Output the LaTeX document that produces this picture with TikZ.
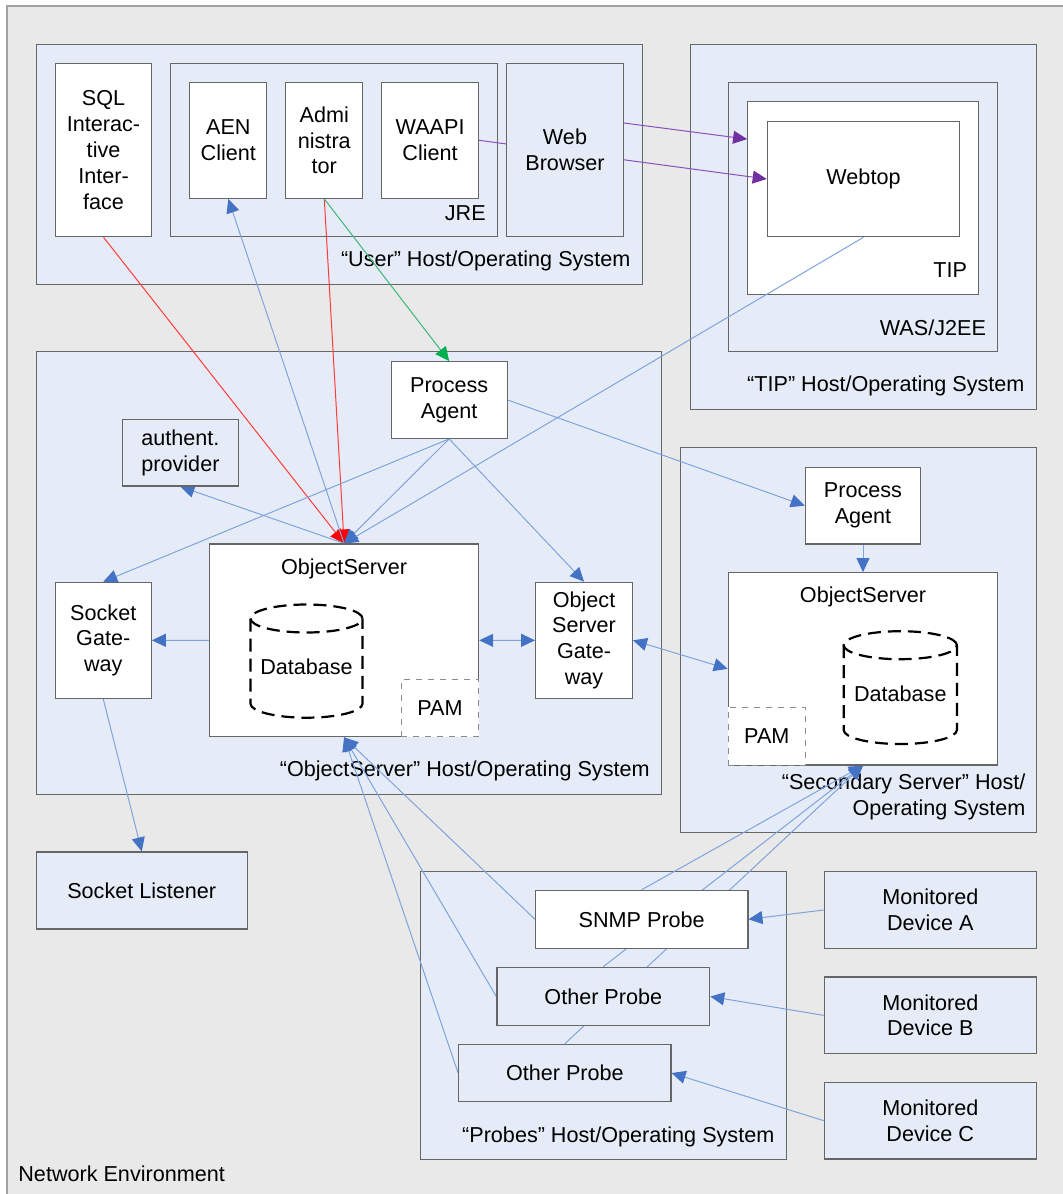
\documentclass[tikz,border=0pt]{standalone}
\usepackage{fontspec}
\setmainfont{Liberation Sans}
\usepackage{tikz}
\usetikzlibrary{arrows.meta,calc}
\pgfdeclarelayer{bg}
\pgfdeclarelayer{fg}
\pgfsetlayers{bg,main,fg}
\definecolor{envgray}{HTML}{E9E9E9}
\definecolor{envline}{HTML}{A0A0A0}
\definecolor{hostblue}{HTML}{E6ECF7}
\definecolor{boxline}{HTML}{666666}
\definecolor{pamline}{HTML}{8C8C8C}
\definecolor{linkblue}{HTML}{7FA3DC}
\definecolor{tipblue}{HTML}{4472C4}
\definecolor{linkred}{HTML}{FF3B3B}
\definecolor{tipred}{HTML}{FF0000}
\definecolor{linkgreen}{HTML}{3CB878}
\definecolor{tipgreen}{HTML}{00B050}
\definecolor{linkpurple}{HTML}{8A4FC0}
\definecolor{tippurple}{HTML}{7030A0}

\begin{document}
\begin{tikzpicture}[x=0.5pt,y=-0.5pt,
  font=\fontsize{10.8}{12.9}\selectfont,
  span/.style args={#1/#2/#3/#4}{at={({(#1+#3)/2},{(#2+#4)/2})},
    minimum width={(#3-#1)*0.5pt}, minimum height={(#4-#2)*0.5pt}},
  host/.style={draw=boxline, fill=hostblue, line width=0.6pt, inner sep=0pt},
  wbox/.style={draw=boxline, fill=white, line width=0.6pt, inner sep=0pt, align=center},
  bbox/.style={wbox, fill=hostblue},
  pambox/.style={draw=pamline, dashed, fill=white, line width=0.5pt, inner sep=0pt},
  hostlbl/.style={anchor=east, align=right, inner sep=0pt},
  dbline/.style={line width=1.1pt, dash pattern=on 6.5pt off 3.5pt},
  link/.style={draw=linkblue, line width=0.5pt,
    -{Triangle[length=7pt,width=6.5pt,color=tipblue]}},
  dlink/.style={draw=linkblue, line width=0.5pt,
    {Triangle[length=7pt,width=6.5pt,color=tipblue]}-{Triangle[length=7pt,width=6.5pt,color=tipblue]}},
  redlink/.style={draw=linkred, line width=0.5pt,
    -{Triangle[length=7pt,width=6.5pt,color=tipred]}},
  greenlink/.style={draw=linkgreen, line width=0.5pt,
    -{Triangle[length=7pt,width=6.5pt,color=tipgreen]}},
  purplelink/.style={draw=linkpurple, line width=0.5pt,
    -{Triangle[length=7pt,width=6.5pt,color=tippurple]}}]
  \useasboundingbox (0,0) rectangle (1063,1194);
  \begin{pgfonlayer}{bg}
  \draw[draw=envline, fill=envgray, line width=0.8pt] (7,6) rectangle (1080,1210);
  \node[anchor=west, inner sep=0pt] (envlbl) at (18,1174) {Network Environment};
  \node[host, span=36.1/44.3/642.7/284.3] (user) {};
  \node[host, span=170.5/63.3/497.5/236.7] (jre) {};
  \node[hostlbl] (jrelbl) at ([xshift=-6pt,yshift=12.3pt]jre.south east) {JRE};
  \node[hostlbl] (userlbl) at ([xshift=-6.3pt,yshift=12pt]user.south east) {“User” Host/Operating System};
  \node[host, span=690.3/44.3/1036.3/409.3] (tiphost) {};
  \node[host, span=728.3/82.3/997.7/351.7] (was) {};
  \node[host, fill=white, span=747.7/101.7/978.7/294.3] (tip) {};
  \node[hostlbl] (tiplbl) at ([xshift=-6pt,yshift=12.5pt]tip.south east) {TIP};
  \node[hostlbl] (waslbl) at ([xshift=-6pt,yshift=12.5pt]was.south east) {WAS/J2EE};
  \node[hostlbl] (tiphostlbl) at ([xshift=-6pt,yshift=12pt]tiphost.south east) {“TIP” Host/Operating System};
  \node[host, span=36.1/351.7/661.4/794.3] (oshost) {};
  \node[hostlbl] (oshostlbl) at ([xshift=-6pt,yshift=12pt]oshost.south east) {“ObjectServer” Host/Operating System};
  \node[host, span=680.7/447.7/1036.3/832.7] (sechost) {};
  \node[hostlbl] (sechostlbl) at ([xshift=-5.5pt,yshift=18.3pt]sechost.south east) {“Secondary Server” Host/\\Operating System};
  \node[host, span=420.5/871.3/786.1/1159.3] (probehost) {};
  \node[hostlbl] (probehostlbl) at ([xshift=-6pt,yshift=11.5pt]probehost.south east) {“Probes” Host/Operating System};
  \end{pgfonlayer}

  \begin{pgfonlayer}{fg}
  \node[wbox, span=55.6/63.3/151.5/236.7] (sql) {SQL\\Interac-\\tive\\Inter-\\face};
  \node[wbox, span=189.8/82.3/266.8/198.3] (aen) {AEN\\Client};
  \node[wbox, span=285.8/82.3/362.8/198.3] (adm) {Admi\\nistra\\tor};
  \node[wbox, span=381.7/82.3/478.5/198.3] (waapi) {WAAPI\\Client};
  \node[bbox, span=506.7/63.3/623.3/236.7] (wb) {Web\\Browser};
  \node[wbox, span=767.3/121.3/959.7/236.7] (webtop) {Webtop};
  \node[wbox, span=391.2/361.7/507.1/438.3] (pa) {Process\\Agent};
  \node[bbox, span=122.7/419.3/238.2/486] (auth) {authent.\\provider};
  \node[wbox, span=55.3/582.3/151.2/698.3] (sgw) {Socket\\Gate-\\way};
  \node[wbox, span=535.7/582.3/632.4/698.3] (osgw) {Object\\Server\\Gate-\\way};
  \node[wbox, span=209.6/544/478.6/736.7] (os) {};
  \node (oslbl) at ([yshift=-12.8pt]os.north) {ObjectServer};
  \node[pambox, span=401.4/679/478.6/736.7] (pam) {PAM};
  \draw[dbline] (306.5,618.5) ellipse [x radius=28pt, y radius=7pt];
  \draw[dbline] (250.5,618.5) -- (250.5,703.7) arc[start angle=180, end angle=360, x radius=28pt, y radius=7pt] -- (362.5,618.5);
  \node (db) at (306.5,666.7) {Database};
  \node[wbox, span=805.3/467.3/920.7/544] (pa2) {Process\\Agent};
  \node[wbox, span=728.3/572.7/997.7/765] (os2) {};
  \node (os2lbl) at ([yshift=-12.6pt]os2.north) {ObjectServer};
  \node[pambox, span=728.3/707.3/805.3/765] (pam2) {PAM};
  \draw[dbline] (900.3,645.2) ellipse [x radius=28.3pt, y radius=7pt];
  \draw[dbline] (843.7,645.2) -- (843.7,730) arc[start angle=180, end angle=360, x radius=28.3pt, y radius=7pt] -- (957,645.2);
  \node (db2) at (900.3,693.3) {Database};
  \node[bbox, span=36.1/852/247.4/929] (sl) {Socket Listener};
  \node[wbox, span=535.6/890.3/747.9/948.3] (snmp) {SNMP Probe};
  \node[bbox, span=496.9/967.3/709.7/1025.7] (oth1) {Other Probe};
  \node[bbox, span=458.7/1044.3/671/1101.7] (oth2) {Other Probe};
  \node[bbox, span=824.3/871.7/1036.3/948.3] (devA) {Monitored\\Device A};
  \node[bbox, span=824.3/977/1036.3/1053.7] (devB) {Monitored\\Device B};
  \node[bbox, span=824.3/1082.3/1036.3/1159] (devC) {Monitored\\Device C};
  \end{pgfonlayer}

  \draw[purplelink] ([yshift=13.5pt]wb.east) -- ([yshift=-19pt]tip.north west);
  \draw[purplelink] (waapi.east) -- (webtop.west);
  \draw[redlink] (sql.south) -- (os.north);
  \draw[redlink] (adm.south) -- (os.north);
  \draw[greenlink] (adm.south) -- (pa.north);
  \draw[link] (os.north) -- (aen.south);
  \draw[link] (os.north) -- (auth.south);
  \draw[link] (pa.south) -- (os.north);
  \draw[link] (pa.south) -- (sgw.north);
  \draw[link] (pa.south) -- (osgw.north);
  \draw[link] (webtop.south) -- (os.north);
  \draw[link] (pa.east) -- (pa2.west);
  \draw[link] (pa2.south) -- (os2.north);
  \draw[link] (os.west) -- (sgw.east);
  \draw[dlink] (os.east) -- (osgw.west);
  \draw[dlink] (osgw.east) -- (os2.west);
  \draw[link] (sgw.south) -- (sl.north);
  \foreach \p in {snmp,oth1,oth2}{
    \draw[link] (\p.west) -- (os.south);
    \draw[link] (\p.north) -- (os2.south);
  }
  \foreach \d/\p in {devA/snmp,devB/oth1,devC/oth2}
    \draw[link] (\d.west) -- (\p.east);
\end{tikzpicture}
\end{document}
